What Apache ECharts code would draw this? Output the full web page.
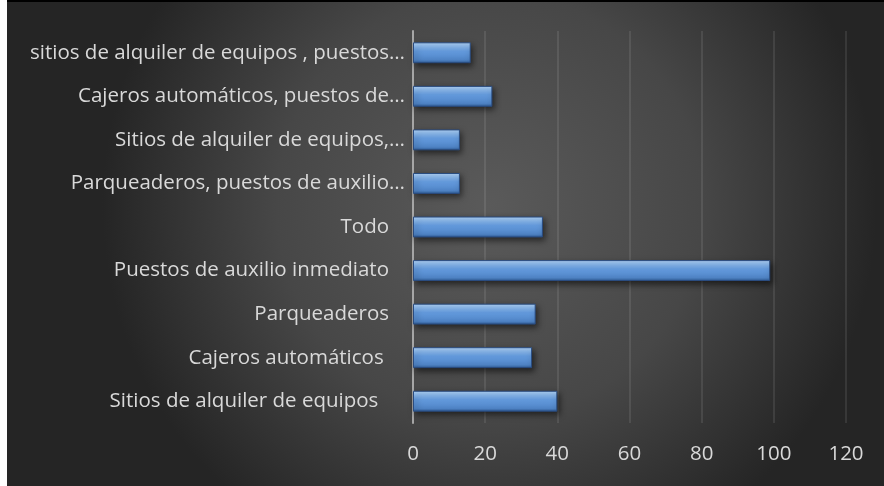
<!DOCTYPE html>
<html>
<head>
<meta charset="utf-8">
<script src="https://cdn.jsdelivr.net/npm/echarts@6/dist/echarts.min.js"></script>
<style>
  html, body { margin: 0; padding: 0; background: #ffffff; }
  #wrap { position: absolute; left: 0; top: 0; width: 884px; height: 486px; background: #ffffff; }
  #chart { position: absolute; left: 7px; top: 2px; width: 877px; height: 484px; }
  #topline { position: absolute; left: 7px; top: 0; width: 877px; height: 2px; background: #000; }
</style>
</head>
<body>
<div id="wrap"><div id="topline"></div><div id="chart"></div></div>
<script>
// Categories from bottom to top (as drawn on the category axis)
const categories = [
  "Sitios de alquiler de equipos  ",
  "Cajeros automáticos ",
  "Parqueaderos",
  "Puestos de auxilio inmediato",
  "Todo",
  "Parqueaderos, puestos de auxilio…",
  "Sitios de alquiler de equipos,…",
  "Cajeros automáticos, puestos de…",
  "sitios de alquiler de equipos , puestos…"
];
const values = [40, 33, 34, 99, 36, 13, 13, 22, 16];
const xTicks = [0, 20, 40, 60, 80, 100, 120];

const chart = echarts.init(document.getElementById('chart'), null, { renderer: 'canvas' });
const FONT = 'Open Sans';
const FS = 20.5;
chart.setOption({
  animation: false,
  backgroundColor: {
    type: 'radial', x: 0.55, y: 0.42, r: 0.8,
    colorStops: [
      { offset: 0, color: '#5a5a5a' },
      { offset: 0.55, color: '#474747' },
      { offset: 1, color: '#252525' }
    ]
  },
  grid: { left: 406, right: 38, top: 29, bottom: 63, containLabel: false },
  xAxis: {
    type: 'value',
    min: xTicks[0],
    max: xTicks[xTicks.length - 1],
    interval: xTicks[1] - xTicks[0],
    axisLine: { show: false },
    axisTick: { show: false },
    splitLine: { show: true, lineStyle: { color: 'rgba(255,255,255,0.12)', width: 1.5 } },
    axisLabel: { color: '#d9d9d9', fontFamily: FONT, fontSize: FS, margin: 21 }
  },
  yAxis: {
    type: 'category',
    data: categories,
    axisLine: { show: true, lineStyle: { color: '#a6a6a6', width: 2 } },
    axisTick: { show: false },
    axisLabel: {
      color: '#d9d9d9', fontFamily: FONT, fontSize: FS, margin: 8,
      formatter: function (v) {
        return v.endsWith('…') ? '{t|' + v + '}' : '{p|' + v + '}';
      },
      rich: {
        t: { color: '#d9d9d9', fontFamily: FONT, fontSize: FS },
        p: { color: '#d9d9d9', fontFamily: FONT, fontSize: FS, padding: [0, 16, 0, 0] }
      }
    }
  },
  series: [{
    type: 'bar',
    data: values,
    barCategoryGap: '52%',
    itemStyle: {
      color: {
        type: 'linear', x: 0, y: 0, x2: 0, y2: 1,
        colorStops: [
          { offset: 0, color: '#b4d6fa' },
          { offset: 0.2, color: '#8dbcf1' },
          { offset: 0.42, color: '#659cdf' },
          { offset: 0.85, color: '#4f84c6' },
          { offset: 1, color: '#2d5a94' }
        ]
      },
      borderColor: '#2a4c80',
      borderWidth: 1,
      shadowColor: 'rgba(0,0,0,0.55)',
      shadowBlur: 6,
      shadowOffsetX: 2,
      shadowOffsetY: 3
    }
  }]
});
</script>
</body>
</html>
